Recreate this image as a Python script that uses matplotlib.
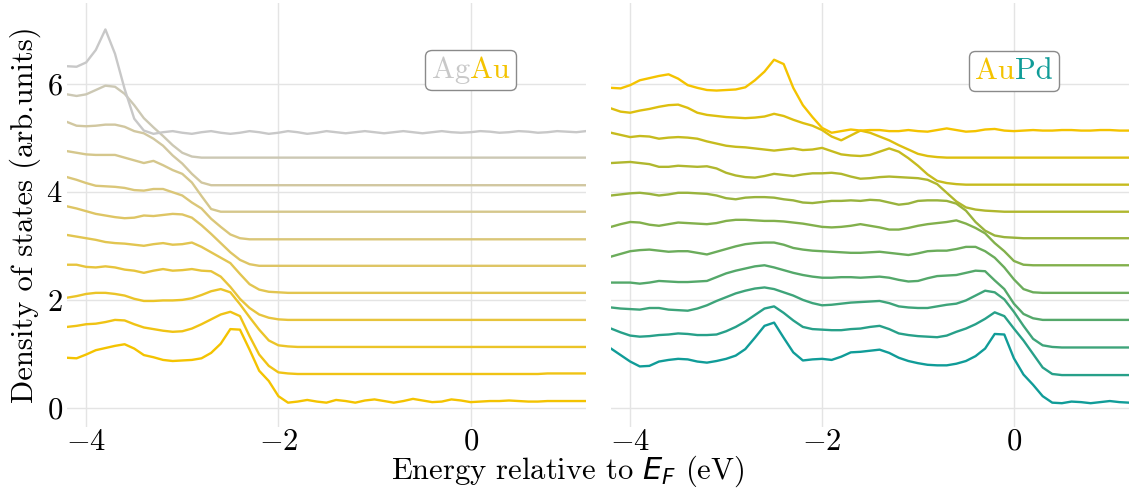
import numpy as np
import matplotlib.pyplot as plt
from matplotlib.colors import to_rgb
from matplotlib.offsetbox import TextArea, HPacker, AnnotationBbox

plt.rcParams['font.family'] = 'serif'
plt.rcParams['font.serif'] = ['cmr10']
plt.rcParams['mathtext.fontset'] = 'cm'
plt.rcParams['axes.formatter.use_mathtext'] = True

# energy grid (eV, relative to E_F)
energy = np.round(np.arange(-4.2, 1.25, 0.1), 1)

# Ag-Au series, pure Au first, Ag fraction grows upwards
agau_00 = [0.93, 0.92, 0.99, 1.07, 1.11, 1.15, 1.18, 1.10, 0.98, 0.94,
           0.89, 0.87, 0.88, 0.89, 0.92, 1.02, 1.19, 1.46, 1.45, 1.08,
           0.69, 0.50, 0.22, 0.10, 0.12, 0.15, 0.12, 0.10, 0.15, 0.13,
           0.10, 0.14, 0.16, 0.13, 0.10, 0.13, 0.17, 0.14, 0.11, 0.12,
           0.16, 0.14, 0.11, 0.12, 0.13, 0.13, 0.14, 0.13, 0.12, 0.12,
           0.13, 0.13, 0.13, 0.13, 0.13]
agau_01 = [1.00, 1.02, 1.05, 1.06, 1.09, 1.13, 1.12, 1.05, 0.99, 0.96,
           0.93, 0.91, 0.92, 0.97, 1.05, 1.14, 1.23, 1.28, 1.20, 0.83,
           0.49, 0.28, 0.16, 0.14, 0.13, 0.13, 0.13, 0.13, 0.13, 0.13,
           0.13, 0.13, 0.13, 0.13, 0.13, 0.13, 0.13, 0.13, 0.13, 0.13,
           0.13, 0.13, 0.13, 0.13, 0.13, 0.13, 0.13, 0.13, 0.13, 0.13,
           0.14, 0.14, 0.14, 0.14, 0.14]
agau_02 = [1.04, 1.07, 1.11, 1.13, 1.13, 1.11, 1.08, 1.02, 0.98, 0.98,
           0.99, 0.99, 1.00, 1.03, 1.09, 1.16, 1.20, 1.14, 0.92, 0.68,
           0.45, 0.25, 0.16, 0.14, 0.13, 0.13, 0.13, 0.13, 0.13, 0.13,
           0.13, 0.13, 0.13, 0.13, 0.13, 0.13, 0.13, 0.13, 0.13, 0.13,
           0.13, 0.13, 0.13, 0.13, 0.13, 0.13, 0.13, 0.13, 0.13, 0.13,
           0.13, 0.13, 0.13, 0.13, 0.13]
agau_03 = [1.15, 1.15, 1.11, 1.10, 1.12, 1.10, 1.06, 1.04, 1.00, 1.04,
           1.07, 1.04, 1.05, 1.07, 1.04, 1.03, 0.93, 0.74, 0.52, 0.35,
           0.23, 0.17, 0.14, 0.13, 0.13, 0.13, 0.13, 0.13, 0.13, 0.13,
           0.13, 0.13, 0.13, 0.13, 0.13, 0.13, 0.13, 0.13, 0.13, 0.13,
           0.13, 0.13, 0.13, 0.13, 0.13, 0.13, 0.13, 0.13, 0.13, 0.13,
           0.13, 0.13, 0.13, 0.13, 0.13]
agau_04 = [1.20, 1.17, 1.14, 1.11, 1.07, 1.05, 1.04, 1.02, 1.00, 1.03,
           1.05, 1.02, 1.03, 1.06, 0.98, 0.88, 0.78, 0.68, 0.48, 0.29,
           0.19, 0.15, 0.14, 0.13, 0.13, 0.13, 0.13, 0.13, 0.13, 0.13,
           0.13, 0.13, 0.13, 0.13, 0.13, 0.13, 0.13, 0.13, 0.13, 0.13,
           0.13, 0.13, 0.13, 0.13, 0.13, 0.13, 0.13, 0.13, 0.13, 0.13,
           0.13, 0.13, 0.13, 0.13, 0.13]
agau_05 = [1.23, 1.19, 1.14, 1.09, 1.06, 1.03, 1.01, 1.02, 1.06, 1.05,
           1.07, 1.09, 1.08, 1.02, 0.88, 0.72, 0.55, 0.38, 0.24, 0.16,
           0.13, 0.13, 0.13, 0.13, 0.13, 0.13, 0.13, 0.13, 0.13, 0.13,
           0.13, 0.13, 0.13, 0.13, 0.13, 0.13, 0.13, 0.13, 0.13, 0.13,
           0.13, 0.13, 0.13, 0.13, 0.13, 0.13, 0.13, 0.13, 0.13, 0.13,
           0.13, 0.13, 0.13, 0.13, 0.13]
agau_06 = [1.27, 1.22, 1.16, 1.11, 1.10, 1.09, 1.07, 1.03, 1.02, 1.05,
           1.05, 0.99, 0.93, 0.80, 0.69, 0.50, 0.35, 0.21, 0.14, 0.12,
           0.12, 0.12, 0.12, 0.12, 0.12, 0.12, 0.12, 0.12, 0.12, 0.12,
           0.12, 0.12, 0.12, 0.12, 0.12, 0.12, 0.12, 0.12, 0.12, 0.12,
           0.12, 0.12, 0.12, 0.12, 0.12, 0.12, 0.12, 0.12, 0.12, 0.12,
           0.12, 0.12, 0.12, 0.12, 0.12]
agau_07 = [1.25, 1.22, 1.19, 1.18, 1.18, 1.18, 1.13, 1.08, 1.03, 1.07,
           0.99, 0.90, 0.83, 0.67, 0.42, 0.18, 0.13, 0.13, 0.13, 0.13,
           0.13, 0.13, 0.13, 0.13, 0.13, 0.13, 0.13, 0.13, 0.13, 0.13,
           0.13, 0.13, 0.13, 0.13, 0.13, 0.13, 0.13, 0.13, 0.13, 0.13,
           0.13, 0.13, 0.13, 0.13, 0.13, 0.13, 0.13, 0.13, 0.13, 0.13,
           0.13, 0.13, 0.13, 0.13, 0.13]
agau_08 = [1.29, 1.22, 1.21, 1.22, 1.24, 1.24, 1.20, 1.12, 1.08, 0.98,
           0.85, 0.67, 0.52, 0.33, 0.17, 0.12, 0.12, 0.12, 0.12, 0.12,
           0.12, 0.12, 0.12, 0.12, 0.12, 0.12, 0.12, 0.12, 0.12, 0.12,
           0.12, 0.12, 0.12, 0.12, 0.12, 0.12, 0.12, 0.12, 0.12, 0.12,
           0.12, 0.12, 0.12, 0.12, 0.12, 0.12, 0.12, 0.12, 0.12, 0.12,
           0.12, 0.12, 0.12, 0.12, 0.12]
agau_09 = [1.30, 1.27, 1.30, 1.38, 1.46, 1.44, 1.31, 1.10, 0.86, 0.69,
           0.53, 0.36, 0.22, 0.15, 0.13, 0.13, 0.13, 0.13, 0.13, 0.13,
           0.13, 0.13, 0.13, 0.13, 0.13, 0.13, 0.13, 0.13, 0.13, 0.13,
           0.13, 0.13, 0.13, 0.13, 0.13, 0.13, 0.13, 0.13, 0.13, 0.13,
           0.13, 0.13, 0.13, 0.13, 0.13, 0.13, 0.13, 0.13, 0.13, 0.13,
           0.13, 0.13, 0.13, 0.13, 0.13]
agau_10 = [1.32, 1.31, 1.39, 1.62, 2.00, 1.55, 0.90, 0.35, 0.13, 0.07,
           0.10, 0.12, 0.09, 0.07, 0.10, 0.12, 0.09, 0.07, 0.09, 0.12,
           0.10, 0.07, 0.09, 0.12, 0.10, 0.07, 0.09, 0.12, 0.10, 0.08,
           0.10, 0.12, 0.10, 0.08, 0.10, 0.12, 0.10, 0.08, 0.10, 0.12,
           0.10, 0.09, 0.10, 0.12, 0.11, 0.09, 0.10, 0.12, 0.11, 0.09,
           0.10, 0.12, 0.11, 0.10, 0.12]

# Au-Pd series, pure Pd first, Au fraction grows upwards
aupd_00 = [1.10, 0.98, 0.86, 0.77, 0.78, 0.86, 0.89, 0.91, 0.90, 0.86,
           0.84, 0.87, 0.91, 0.97, 1.09, 1.30, 1.52, 1.58, 1.30, 1.03,
           0.88, 0.90, 0.91, 0.89, 0.95, 1.03, 1.04, 1.06, 1.08, 1.02,
           0.93, 0.87, 0.83, 0.80, 0.79, 0.79, 0.82, 0.87, 0.96, 1.10,
           1.37, 1.36, 0.92, 0.62, 0.43, 0.22, 0.10, 0.09, 0.12, 0.11,
           0.09, 0.11, 0.13, 0.11, 0.10]
aupd_01 = [0.97, 0.90, 0.84, 0.82, 0.83, 0.85, 0.86, 0.88, 0.87, 0.85,
           0.85, 0.86, 0.92, 1.00, 1.10, 1.22, 1.34, 1.38, 1.26, 1.12,
           1.00, 0.96, 0.95, 0.94, 0.94, 0.96, 0.97, 1.00, 1.02, 0.96,
           0.88, 0.85, 0.83, 0.82, 0.81, 0.84, 0.91, 0.97, 1.05, 1.15,
           1.27, 1.20, 0.97, 0.75, 0.50, 0.25, 0.13, 0.11, 0.11, 0.11,
           0.11, 0.11, 0.11, 0.11, 0.11]
aupd_02 = [0.86, 0.84, 0.83, 0.82, 0.85, 0.85, 0.82, 0.81, 0.80, 0.84,
           0.90, 0.98, 1.05, 1.12, 1.17, 1.21, 1.23, 1.20, 1.14, 1.08,
           1.00, 0.94, 0.90, 0.91, 0.93, 0.95, 0.96, 0.97, 0.98, 0.94,
           0.88, 0.86, 0.85, 0.85, 0.88, 0.91, 0.93, 0.99, 1.08, 1.17,
           1.14, 1.01, 0.78, 0.52, 0.28, 0.16, 0.13, 0.12, 0.12, 0.12,
           0.12, 0.12, 0.12, 0.12, 0.12]
aupd_03 = [0.82, 0.82, 0.82, 0.80, 0.82, 0.85, 0.84, 0.83, 0.83, 0.84,
           0.85, 0.92, 0.99, 1.04, 1.08, 1.12, 1.14, 1.10, 1.05, 1.00,
           0.96, 0.93, 0.91, 0.91, 0.92, 0.92, 0.91, 0.92, 0.93, 0.91,
           0.87, 0.84, 0.85, 0.90, 0.94, 0.95, 0.96, 1.00, 1.04, 1.03,
           0.86, 0.70, 0.43, 0.24, 0.16, 0.13, 0.13, 0.13, 0.13, 0.13,
           0.13, 0.13, 0.13, 0.13, 0.13]
aupd_04 = [0.80, 0.85, 0.90, 0.92, 0.93, 0.91, 0.89, 0.90, 0.90, 0.87,
           0.84, 0.89, 0.94, 0.99, 1.03, 1.05, 1.06, 1.06, 1.02, 0.96,
           0.93, 0.91, 0.90, 0.89, 0.88, 0.87, 0.87, 0.88, 0.89, 0.87,
           0.85, 0.83, 0.86, 0.90, 0.91, 0.91, 0.94, 0.98, 0.98, 0.90,
           0.78, 0.60, 0.38, 0.20, 0.14, 0.13, 0.13, 0.13, 0.13, 0.13,
           0.13, 0.13, 0.13, 0.13, 0.13]
aupd_05 = [0.85, 0.90, 0.94, 0.93, 0.89, 0.87, 0.90, 0.93, 0.92, 0.91,
           0.90, 0.92, 0.96, 0.98, 0.98, 0.97, 0.96, 0.96, 0.95, 0.93,
           0.91, 0.88, 0.85, 0.84, 0.85, 0.87, 0.90, 0.87, 0.84, 0.80,
           0.80, 0.83, 0.87, 0.90, 0.92, 0.94, 0.97, 0.91, 0.83, 0.73,
           0.55, 0.40, 0.22, 0.15, 0.14, 0.14, 0.14, 0.14, 0.14, 0.14,
           0.14, 0.14, 0.14, 0.14, 0.14]
aupd_06 = [0.93, 0.95, 0.97, 0.98, 0.96, 0.93, 0.95, 0.98, 0.98, 0.97,
           0.96, 0.93, 0.88, 0.86, 0.89, 0.90, 0.90, 0.89, 0.86, 0.84,
           0.80, 0.79, 0.81, 0.83, 0.83, 0.84, 0.83, 0.85, 0.84, 0.80,
           0.76, 0.78, 0.83, 0.84, 0.84, 0.83, 0.78, 0.65, 0.44, 0.28,
           0.19, 0.16, 0.15, 0.14, 0.14, 0.14, 0.14, 0.14, 0.14, 0.14,
           0.14, 0.14, 0.14, 0.14, 0.14]
aupd_07 = [1.03, 1.04, 1.05, 1.03, 1.01, 0.96, 0.96, 0.98, 0.97, 0.96,
           0.97, 0.93, 0.85, 0.80, 0.77, 0.76, 0.79, 0.83, 0.81, 0.79,
           0.82, 0.84, 0.84, 0.85, 0.83, 0.78, 0.74, 0.75, 0.77, 0.78,
           0.77, 0.76, 0.75, 0.72, 0.64, 0.48, 0.32, 0.21, 0.17, 0.15,
           0.14, 0.13, 0.13, 0.13, 0.13, 0.13, 0.13, 0.13, 0.13, 0.13,
           0.13, 0.13, 0.13, 0.13, 0.13]
aupd_08 = [1.09, 1.05, 1.01, 1.03, 1.02, 0.98, 1.00, 1.01, 1.00, 0.98,
           0.93, 0.89, 0.85, 0.83, 0.82, 0.80, 0.78, 0.76, 0.78, 0.80,
           0.77, 0.78, 0.81, 0.75, 0.69, 0.67, 0.66, 0.68, 0.74, 0.80,
           0.74, 0.62, 0.48, 0.32, 0.20, 0.16, 0.14, 0.13, 0.13, 0.13,
           0.13, 0.13, 0.13, 0.13, 0.13, 0.13, 0.13, 0.13, 0.13, 0.13,
           0.13, 0.13, 0.13, 0.13, 0.13]
aupd_09 = [1.04, 0.98, 0.96, 1.00, 1.03, 1.07, 1.10, 1.11, 1.05, 0.96,
           0.92, 0.90, 0.88, 0.87, 0.86, 0.87, 0.89, 0.94, 0.90, 0.83,
           0.77, 0.72, 0.64, 0.52, 0.45, 0.54, 0.63, 0.59, 0.52, 0.45,
           0.36, 0.28, 0.20, 0.16, 0.14, 0.13, 0.13, 0.13, 0.13, 0.13,
           0.13, 0.13, 0.13, 0.13, 0.13, 0.13, 0.13, 0.13, 0.13, 0.13,
           0.13, 0.13, 0.13, 0.13, 0.13]
aupd_10 = [0.92, 0.91, 0.97, 1.06, 1.10, 1.14, 1.17, 1.09, 0.97, 0.92,
           0.88, 0.87, 0.88, 0.89, 0.93, 1.06, 1.22, 1.44, 1.36, 0.92,
           0.60, 0.38, 0.18, 0.09, 0.12, 0.15, 0.13, 0.14, 0.14, 0.12,
           0.12, 0.14, 0.12, 0.11, 0.14, 0.17, 0.14, 0.11, 0.12, 0.15,
           0.16, 0.13, 0.12, 0.13, 0.14, 0.13, 0.13, 0.14, 0.14, 0.13,
           0.13, 0.14, 0.14, 0.13, 0.13]

agau = [agau_00, agau_01, agau_02, agau_03, agau_04, agau_05,
        agau_06, agau_07, agau_08, agau_09, agau_10]
aupd = [aupd_00, aupd_01, aupd_02, aupd_03, aupd_04, aupd_05,
        aupd_06, aupd_07, aupd_08, aupd_09, aupd_10]

offset = 0.5
gold = '#f4c300'
silver = '#c8c8c8'
teal = '#109c98'


def blend(c0, c1, t):
    a, b = np.array(to_rgb(c0)), np.array(to_rgb(c1))
    return tuple(a + (b - a) * t)


fig = plt.figure(figsize=(11.29, 4.88), dpi=100)
ax1 = fig.add_axes([0.0593, 0.125, 0.4597, 0.869])
ax2 = fig.add_axes([0.5412, 0.125, 0.4588, 0.869], sharey=ax1)

n = len(agau)
for i, dos in enumerate(agau):
    ax1.plot(energy, np.array(dos) + offset * i,
             color=blend(gold, silver, i / (n - 1)), lw=1.7,
             solid_joinstyle='round')
for i, dos in enumerate(aupd):
    ax2.plot(energy, np.array(dos) + offset * i,
             color=blend(teal, gold, i / (n - 1)), lw=1.7,
             solid_joinstyle='round')

for ax in (ax1, ax2):
    ax.set_xlim(-4.2, 1.2)
    ax.set_ylim(-0.35, 7.49)
    ax.set_xticks([-4, -2, 0])
    ax.set_yticks([0, 2, 4, 6])
    ax.grid(True, color='#e4e4e4', lw=1.0)
    ax.set_axisbelow(True)
    for s in ax.spines.values():
        s.set_visible(False)
    ax.tick_params(axis='x', length=0, labelsize=22, pad=1)
    ax.tick_params(axis='y', length=0, labelsize=22, pad=3)
ax2.tick_params(labelleft=False)


def tag(ax, parts, y):
    areas = [TextArea(t, textprops=dict(color=c, fontsize=22)) for t, c in parts]
    box = HPacker(children=areas, align='baseline', pad=0, sep=0)
    ab = AnnotationBbox(box, (0, y), xycoords='data', frameon=True,
                        bboxprops=dict(boxstyle='round,pad=0.45', ec='#8a8a8a',
                                       fc='white', lw=1.0))
    ax.add_artist(ab)


tag(ax1, [('Ag', silver), ('Au', gold)], 6.25)
tag(ax2, [('Au', gold), ('Pd', teal)], 6.23)

fig.text(0.022, 0.56, 'Density of states (arb.units)', rotation=90,
         ha='center', va='center', fontsize=22)
xl = fig.text(0.503, 0.034, 'Energy relative to $E_F$ (eV)',
              ha='center', va='center', fontsize=22)
xl.set_math_fontfamily('dejavusans')

fig.savefig('out.png', dpi=100)
